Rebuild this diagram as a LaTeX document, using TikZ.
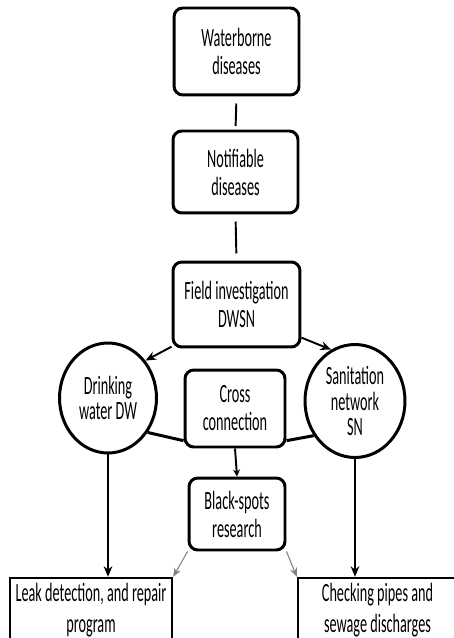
\documentclass[tikz,border=0pt]{standalone}
\usepackage{fontspec}
\setmainfont{Carlito}[FakeStretch=0.54]
\usetikzlibrary{shapes.geometric,arrows.meta}

\tikzset{wdbox/.style={draw,line width=1.7pt,rounded corners=5pt,fill=white,align=center,inner sep=0pt,font=\fontsize{15}{15.9}\selectfont},
         wdcirc/.style={ellipse,draw,line width=1.7pt,fill=white,align=center,inner sep=0pt,font=\fontsize{15}{14.4}\selectfont},
         wdplain/.style={draw,line width=1.4pt,align=center,inner sep=0pt,font=\fontsize{15}{17.6}\selectfont},
         wdarr/.style={line width=1.1pt,-{Stealth[length=6pt,width=5pt]}},
         wdgray/.style={gray,line width=0.6pt,-{Stealth[length=5pt,width=4pt]}}}

\begin{document}
\begin{tikzpicture}[x=0.02cm,y=-0.02cm]
    \useasboundingbox (0,0) rectangle (453,638);
    \node[wdbox,minimum width=2.5cm,minimum height=1.74cm] (wd) at (236.5,51.5) {Waterborne\\diseases};
    \node[wdbox,minimum width=2.5cm,minimum height=1.64cm] (nd) at (235.5,172) {Notifiable\\diseases};
    \node[wdbox,minimum width=2.54cm,minimum height=1.7cm] (fi) at (236.5,304.5) {Field investigation\\DWSN};
    \node[wdcirc,minimum width=1.94cm,minimum height=2.2cm] (dw) at (108,398) {Drinking\\water DW};
    \node[wdcirc,minimum width=2cm,minimum height=2.26cm] (sn) at (355,401) {Sanitation\\network\\SN};
    \node[wdbox,minimum width=2cm,minimum height=1.54cm] (cc) at (235,408.5) {Cross\\connection};
    \node[wdbox,minimum width=1.92cm,minimum height=1.44cm] (bs) at (237,514) {Black-spots\\research};
    \node[wdplain,minimum width=3.24cm,minimum height=1.3cm] (ld) at (91,610.5) {Leak detection, and repair\\program};
    \node[wdplain,minimum width=3.18cm,minimum height=1.3cm] (cp) at (377.5,610.5) {Checking pipes and\\sewage discharges};
    \draw[line width=1.1pt,shorten <=4pt,shorten >=2pt] (wd.south) -- (nd.north);
    \draw[line width=1.1pt,shorten <=4pt,shorten >=4pt] (nd.south) -- (fi.north);
    \draw[wdarr] (fi.213) -- (dw.45);
    \draw[wdarr] (fi.-27) -- (sn.115);
    \foreach \a/\b in {dw.-41/cc.212,cc.-32/sn.220} \draw[line width=1.7pt] (\a) -- (\b);
    \draw[line width=1.1pt,-{Stealth[length=4pt,width=4pt]}] (cc.south) -- (bs.north);
    \draw[wdarr] (dw.south) -- (dw.south |- ld.north);
    \draw[wdarr] (sn.south) -- (sn.south |- cp.north);
    \draw[wdgray] (bs.south west) -- (ld.north east);
    \draw[wdgray] (bs.south east) -- (cp.north west);
  \end{tikzpicture}
\end{document}
